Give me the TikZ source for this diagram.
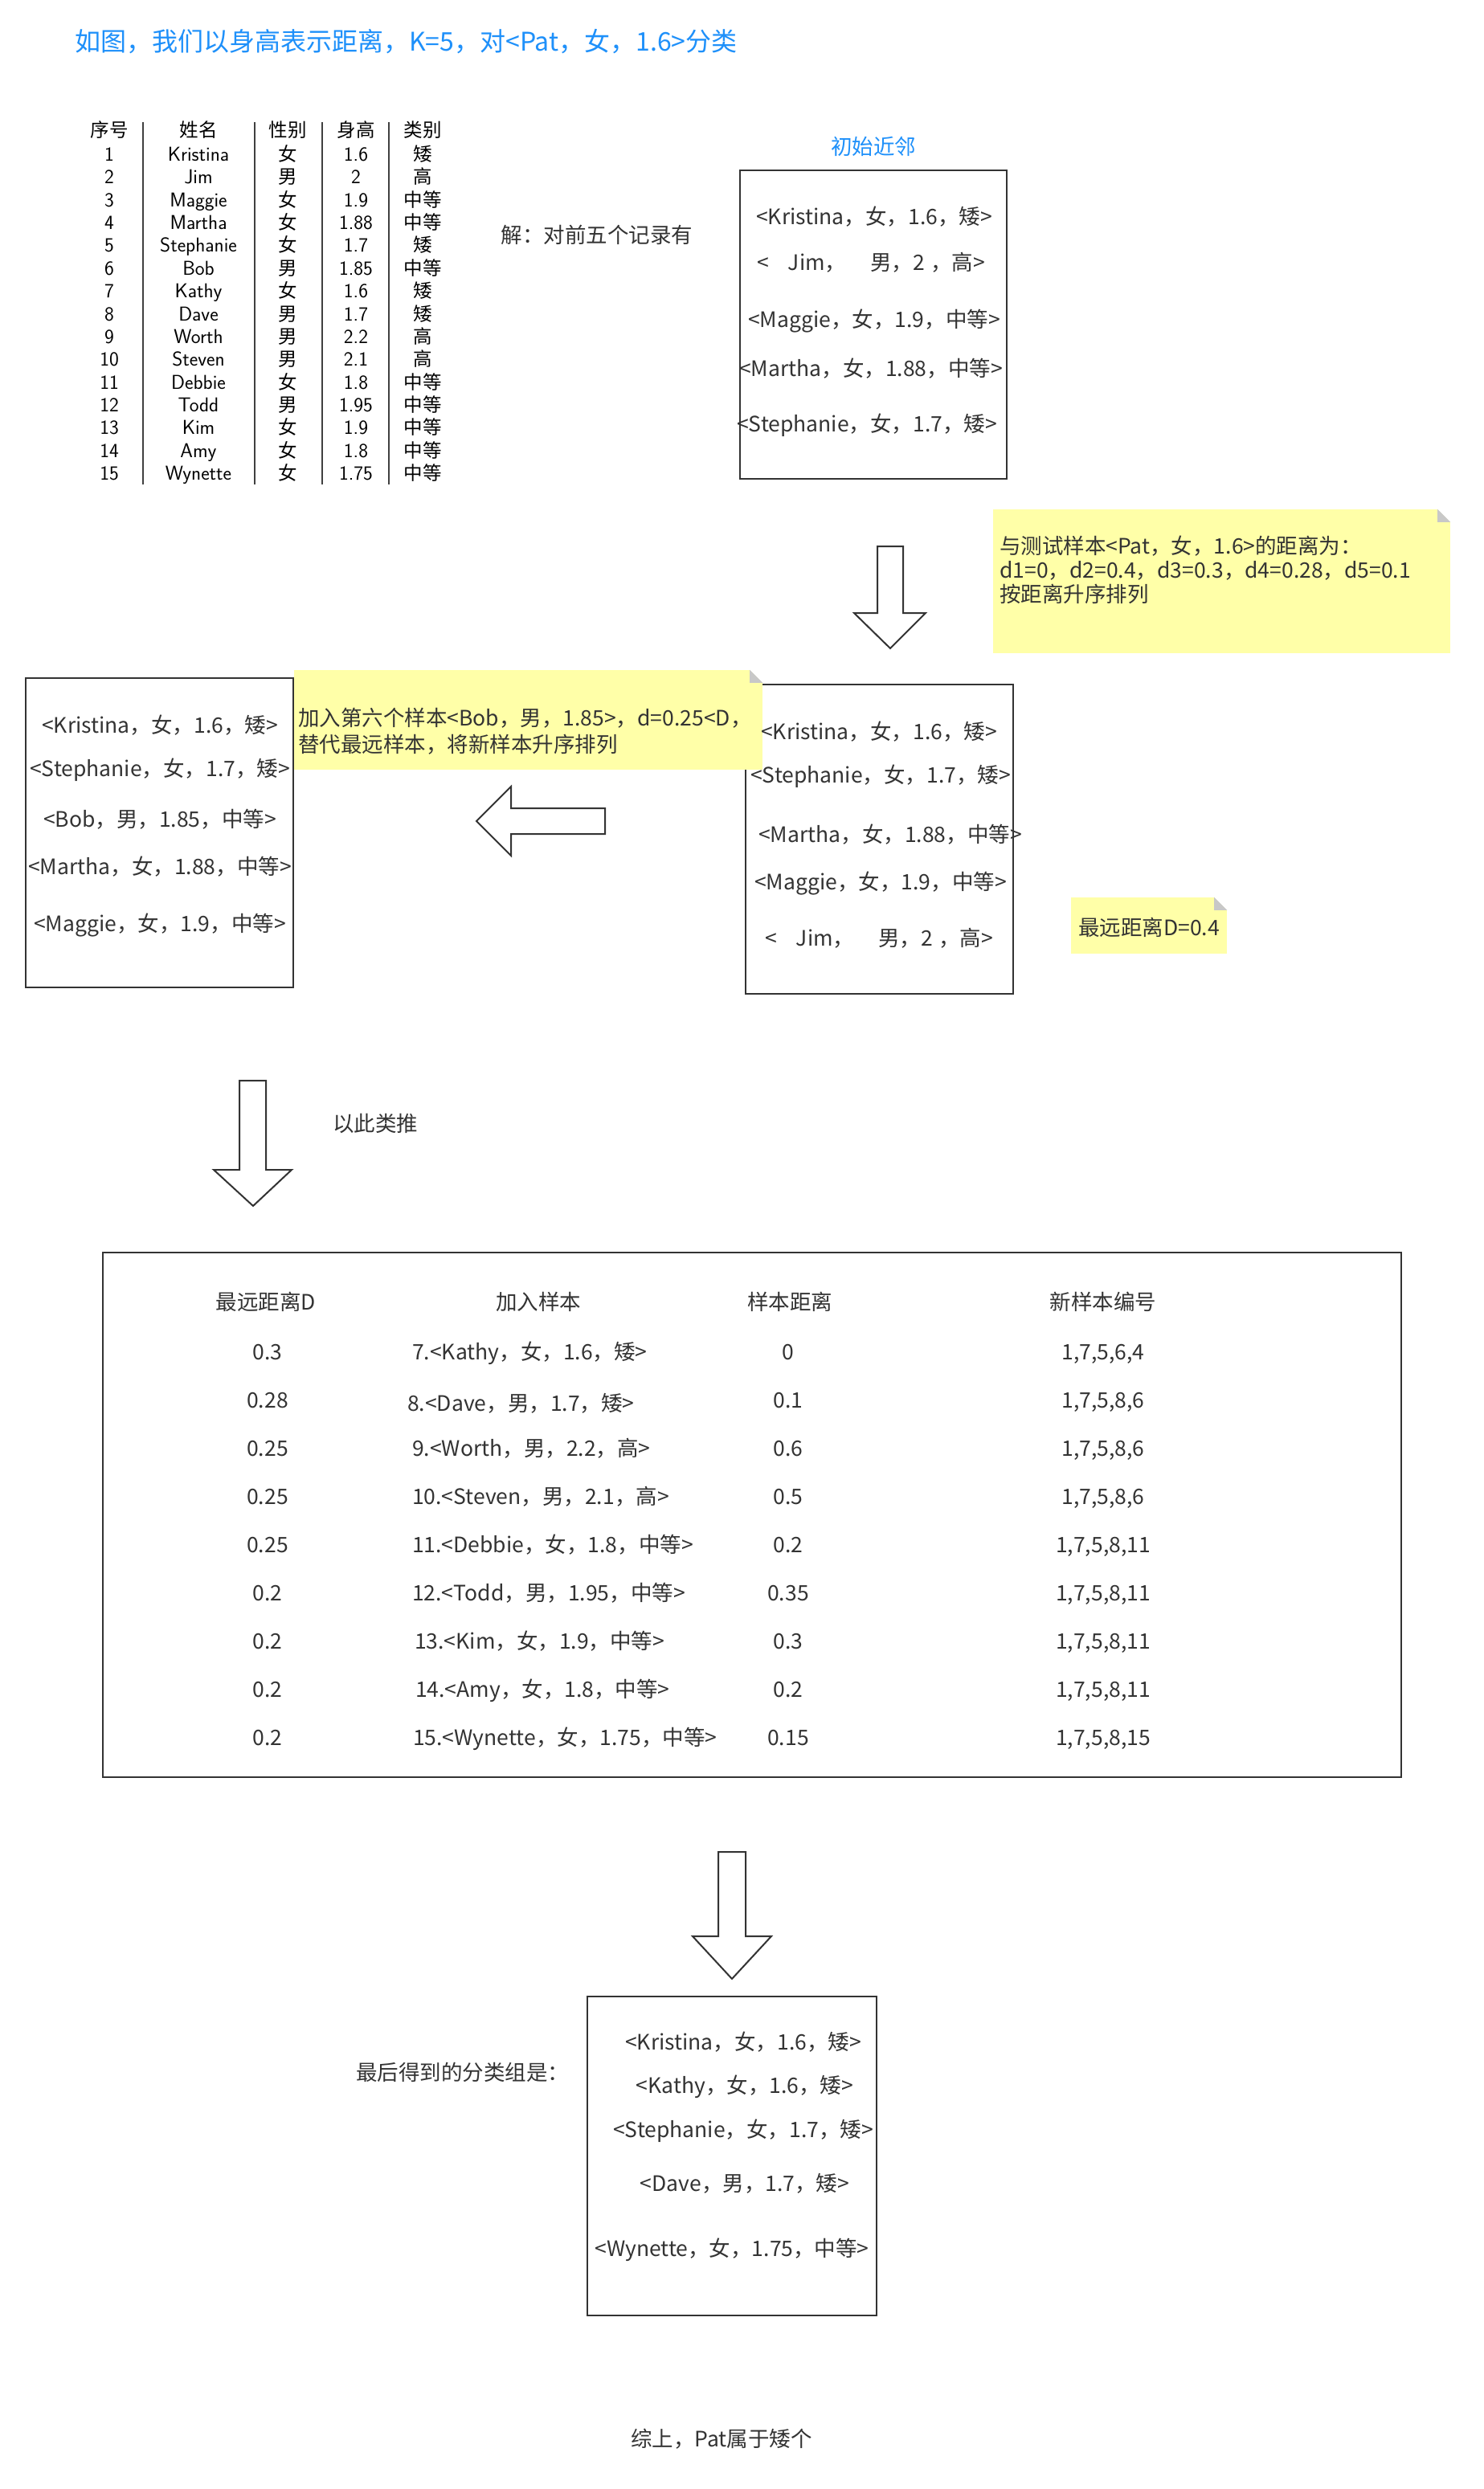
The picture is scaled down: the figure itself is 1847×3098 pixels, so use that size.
\documentclass[tikz,border=0pt]{standalone}
\usepackage{fontspec}
\setmainfont{Noto Sans CJK SC}
\usetikzlibrary{positioning}
\definecolor{ink}{HTML}{333333}
\definecolor{blu}{RGB}{30,144,250}
\definecolor{memoyellow}{RGB}{255,255,168}
\definecolor{memofold}{RGB}{200,200,200}
\tikzset{
  lbl/.style={text=ink, inner sep=0pt, text height=19.5pt, text depth=1pt, font=\fontsize{26.5}{32}\selectfont},
  lblw/.style={lbl, anchor=west},
  ttl/.style={text=blu, inner sep=0pt, anchor=west, text height=24pt, text depth=1pt, font=\fontsize{32}{38}\selectfont},
  memotxt/.style={text=ink, inner sep=0pt, anchor=west, align=left, font=\fontsize{26.5}{30}\selectfont},
  cell/.style={text=black, inner sep=0pt, text height=17pt, text depth=0pt, font=\fontsize{25}{28}\selectfont\sffamily},
  cellzh/.style={cell, font=\fontsize{23.5}{28}\selectfont},
  bx/.style={rectangle, draw=ink, line width=2pt, fill=white, inner sep=0pt},
  memo/.style={rectangle, fill=memoyellow, inner sep=0pt},
  blk/.style={draw=ink, line width=2pt, fill=white, line join=miter},
  rule/.style={draw=black!75, line width=1.6pt},
  node distance=17pt
}
\begin{document}
\begin{tikzpicture}[x=1pt, y=-1pt]
\fill[white] (0,0) rectangle (1847,3098);
\useasboundingbox (0,0) rectangle (1847,3098);

\node[ttl] (title) at (93,52) {如图，我们以身高表示距离，K=5，对<Pat，女，1.6>分类};

\foreach \hd/\x [count=\k] in {序号/136,姓名/247,性别/358,身高/443,类别/526}
  \node[cellzh] (th\k) at (\x,162) {\hd};
\foreach \x in {178,317,401,484}
  \draw[rule] (\x,152) -- (\x,603);
\foreach \nm/\sex/\hgt/\cls [count=\k] in {Kristina/女/1.6/矮, Jim/男/2/高, Maggie/女/1.9/中等,
    Martha/女/1.88/中等, Stephanie/女/1.7/矮, Bob/男/1.85/中等, Kathy/女/1.6/矮, Dave/男/1.7/矮,
    Worth/男/2.2/高, Steven/男/2.1/高, Debbie/女/1.8/中等, Todd/男/1.95/中等, Kim/女/1.9/中等,
    Amy/女/1.8/中等, Wynette/女/1.75/中等}{
  \node[cell] (no\k) at (136,{192+28.36*(\k-1)}) {\k};
  \node[cell] (nm\k) at (247,{192+28.36*(\k-1)}) {\nm};
  \node[cellzh] (sx\k) at (358,{192+28.36*(\k-1)}) {\sex};
  \node[cell] (hg\k) at (443,{192+28.36*(\k-1)}) {\hgt};
  \node[cellzh] (cl\k) at (526,{192+28.36*(\k-1)}) {\cls};
}

\node[lbl] (jie) at (743,293) {解：对前五个记录有};
\node[bx, minimum width=332pt, minimum height=384pt] (init) at (1087,404) {};
\node[lbl, text=blu, above=of init] (chu) {初始近邻};
\foreach \x/\y/\entry [count=\k] in {1088/270/{<Kristina，女，1.6，矮>},
    1084/327/{<\hspace{24pt}Jim，\hspace{30pt}男，2\hspace{7pt}，高>},
    1088/398/{<Maggie，女，1.9，中等>}, 1084/459/{<Martha，女，1.88，中等>},
    1079/528/{<Stephanie，女，1.7，矮>}}
  \node[lbl] (i\k) at (\x,\y) {\entry};

\draw[blk] (1092,680) -- (1124,680) -- (1124,763) -- (1152,763) -- (1108,807) -- (1063,763) -- (1092,763) -- cycle;
\node[memo, minimum width=569pt, minimum height=179pt] (memo1) at (1520.5,723.5) {};
\node[memotxt] (memo1t) at (1244,709) {与测试样本<Pat，女，1.6>的距离为：\\d1=0，d2=0.4，d3=0.3，d4=0.28，d5=0.1\\按距离升序排列};

\node[bx, minimum width=333pt, minimum height=385pt] (sorted) at (1094.5,1044.5) {};
\node[bx, minimum width=333pt, minimum height=385pt] (bob) at (198.5,1036.5) {};
\node[memo, minimum width=583pt, minimum height=124pt] (memo2) at (657.5,896) {};
\node[memotxt, font=\fontsize{26.5}{33}\selectfont] (memo2t) at (371,910) {加入第六个样本<Bob，男，1.85>，d=0.25<D，\\替代最远样本，将新样本升序排列};
\node[memo, minimum width=194pt, minimum height=70pt] (memo3) at (1430,1152) {};
\node[lbl] (memo3t) at (1430,1155) {最远距离D=0.4};
\foreach \n in {memo1,memo2,memo3}{
  \fill[white] ([xshift=-16pt]\n.north east) -- (\n.north east) -- ([yshift=-16pt]\n.north east) -- cycle;
  \fill[memofold] ([xshift=-16pt]\n.north east) -- ([xshift=-16pt,yshift=-16pt]\n.north east) -- ([yshift=-16pt]\n.north east) -- cycle;
}

\foreach \x/\y/\entry [count=\k] in {1094/911/{<Kristina，女，1.6，矮>}, 1096/965/{<Stephanie，女，1.7，矮>},
    1108/1039/{<Martha，女，1.88，中等>}, 1096/1098/{<Maggie，女，1.9，中等>},
    1094/1168/{<\hspace{24pt}Jim，\hspace{30pt}男，2\hspace{7pt}，高>}}
  \node[lbl] (s\k) at (\x,\y) {\entry};
\foreach \y/\entry [count=\k] in {903/{<Kristina，女，1.6，矮>}, 957/{<Stephanie，女，1.7，矮>},
    1020/{<Bob，男，1.85，中等>}, 1079/{<Martha，女，1.88，中等>}, 1150/{<Maggie，女，1.9，中等>}}
  \node[lbl] (b\k) at (199,\y) {\entry};

\draw[blk] (753,1006) -- (636,1006) -- (636,979) -- (593,1022) -- (636,1065) -- (636,1038) -- (753,1038) -- cycle;

\draw[blk] (298,1345) -- (331,1345) -- (331,1456) -- (363,1456) -- (315,1501) -- (266,1456) -- (298,1456) -- cycle;
\node[lblw] (yici) at (414,1399) {以此类推};

\node[bx, minimum width=1616pt, minimum height=653pt] (steps) at (936,1885.5) {};
\foreach \hd/\x [count=\k] in {最远距离D/331, 加入样本/670, 样本距离/983, 新样本编号/1373}
  \node[lbl] (hd\k) at (\x,1621) {\hd};
\foreach \dmax/\smp/\dist/\ids/\sxo/\syo [count=\k] in {
    0.3/{7.<Kathy，女，1.6，矮>}/0/{1,7,5,6,4}/513/0,
    0.28/{8.<Dave，男，1.7，矮>}/0.1/{1,7,5,8,6}/507/4,
    0.25/{9.<Worth，男，2.2，高>}/0.6/{1,7,5,8,6}/513/0,
    0.25/{10.<Steven，男，2.1，高>}/0.5/{1,7,5,8,6}/513/0,
    0.25/{11.<Debbie，女，1.8，中等>}/0.2/{1,7,5,8,11}/513/0,
    0.2/{12.<Todd，男，1.95，中等>}/0.35/{1,7,5,8,11}/513/0,
    0.2/{13.<Kim，女，1.9，中等>}/0.3/{1,7,5,8,11}/516/0,
    0.2/{14.<Amy，女，1.8，中等>}/0.2/{1,7,5,8,11}/517/0,
    0.2/{15.<Wynette，女，1.75，中等>}/0.15/{1,7,5,8,15}/514/0}{
  \node[lbl] (dm\k) at (333,{1683+60*(\k-1)}) {\dmax};
  \node[lblw] (sp\k) at (\sxo,{1683+60*(\k-1)+\syo}) {\smp};
  \node[lbl] (ds\k) at (981,{1683+60*(\k-1)}) {\dist};
  \node[lbl] (id\k) at (1373,{1683+60*(\k-1)}) {\ids};
}

\draw[blk] (894,2305) -- (928,2305) -- (928,2410) -- (960,2410) -- (911,2463) -- (862,2410) -- (894,2410) -- cycle;
\node[bx, minimum width=360pt, minimum height=397pt] (final) at (911,2683.5) {};
\foreach \x/\y/\entry [count=\k] in {925/2542/{<Kristina，女，1.6，矮>}, 927/2596/{<Kathy，女，1.6，矮>},
    925/2651/{<Stephanie，女，1.7，矮>}, 927/2718/{<Dave，男，1.7，矮>}, 911/2799/{<Wynette，女，1.75，中等>}}
  \node[lbl] (f\k) at (\x,\y) {\entry};
\node[lblw] (zuihou) at (443,2580) {最后得到的分类组是：};

\node[lbl] (concl) at (898,3036) {综上，Pat属于矮个};
\end{tikzpicture}
\end{document}
